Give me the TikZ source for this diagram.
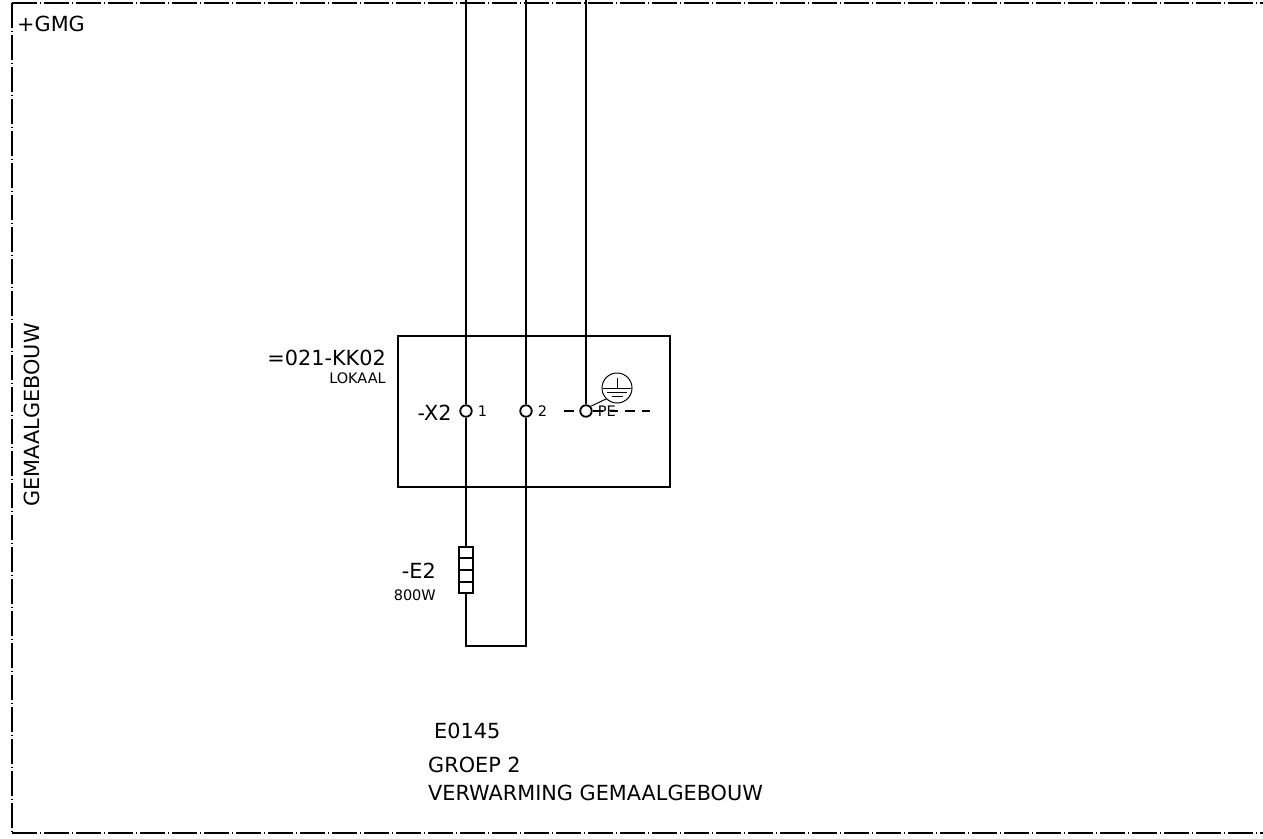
\documentclass[tikz,border=0pt]{standalone}
\usepackage{fontspec}
\setmainfont{DejaVu Sans}
\usepackage{tikz}
\usetikzlibrary{
    calc,
    positioning,
}
\tikzset{
    wire/.style={line width=2pt,black},
    frameline/.style={line width=2pt,dash pattern=on 25pt off 2.5pt on 1.5pt off 3pt},
    terminal/.style={draw,circle,line width=1.8pt,fill=white,inner sep=0pt,minimum size=11.5pt},
    lbl/.style={inner sep=0pt,font=\fontsize{20.8}{24}\selectfont},
    smalllbl/.style={inner sep=0pt,font=\fontsize{14.5}{17}\selectfont},
}

\begin{document}
\begin{tikzpicture}[x=1pt,y=-1pt]
    \useasboundingbox (0,0) rectangle (1263,838);
    % outer frame
    \coordinate (frametl) at (12,3);
    \coordinate (frametr) at (1263,3);
    \coordinate (framebl) at (12,833);
    \coordinate (framebr) at (1263,833);
    \draw[frameline] (frametl) -- (frametr);
    \draw[frameline] (frametl) -- (framebl);
    \draw[frameline] (framebl) -- (framebr);

    \node[draw,wire,minimum width=272pt,minimum height=151pt,inner sep=0pt] (lokaalbox) at (534,411.5) {};
    \node[terminal] (term1) at (466,411) {};
    \node[terminal] (term2) at (526,411) {};
    \node[terminal] (termpe) at (586,411) {};
    \coordinate (top1) at (466,0);
    \coordinate (top2) at (526,0);
    \coordinate (toppe) at (586,0);

    % heater
    \node[draw,line width=1.7pt,minimum width=14pt,minimum height=46pt,inner sep=0pt] (heater) at (466,570) {};
    \coordinate (bottom1) at (466,646);
    \coordinate (bottom2) at (526,646);
    \draw[line width=1.7pt] ($(heater.north west)!.25!(heater.south west)$) -- ($(heater.north east)!.25!(heater.south east)$);
    \draw[line width=1.7pt] (heater.west) -- (heater.east);
    \draw[line width=1.7pt] ($(heater.north west)!.75!(heater.south west)$) -- ($(heater.north east)!.75!(heater.south east)$);

    \draw[wire] (top1) -- (term1);
    \draw[wire] (top2) -- (term2);
    \draw[wire] (toppe) -- (termpe);
    \draw[wire] (term1) -- (heater);
    \draw[wire] (heater) -- (bottom1) -- (bottom2) -- (term2);

    % earth symbol
    \coordinate (dashl) at (564,411);
    \coordinate (dashr) at (650,411);
    \draw[line width=1.7pt,dash pattern=on 10pt off 7pt] (dashl) -- (termpe);
    \draw[line width=1.7pt,dash pattern=on 8pt off 7pt on 10pt off 7pt] (dashr) -- (termpe);
    \node[draw,circle,line width=1pt,minimum size=30pt,inner sep=0pt] (earth) at (617,388) {};
    \draw[line width=1pt] (termpe.45) -- (earth.225);
    \coordinate (earthmid) at (617,388.5);
    \draw[line width=1pt] (earth.north) ++(0,5) -- (earthmid);
    \draw[line width=1pt] ($(earthmid)+(-14,0)$) -- ($(earthmid)+(14,0)$);
    \draw[line width=1pt] ($(earthmid)+(-10,4)$) -- ($(earthmid)+(10,4)$);
    \draw[line width=1pt] ($(earthmid)+(-5.5,8)$) -- ($(earthmid)+(5.5,8)$);

    % texts
    \node[lbl,anchor=west] (gmg) at (17,24) {+GMG};
    \node[lbl,rotate=90] (gebouw) at (32,415) {GEMAALGEBOUW};
    \node[lbl,anchor=east] (kastname) at (386,358) {=021-KK02};
    \node[smalllbl,anchor=east] (kastloc) at (386,378) {LOKAAL};
    \node[lbl,left=7.5pt of term1,yshift=-1.5pt] (x2) {-X2};
    \node[smalllbl,right=5pt of term1] (num1) {1};
    \node[smalllbl,right=5pt of term2] (num2) {2};
    \node[smalllbl,right=5pt of termpe] (numpe) {PE};
    \node[lbl,anchor=east] (e2) at (436,571) {-E2};
    \node[smalllbl,anchor=east] (watt) at (436,595) {800W};
    \node[lbl,anchor=west] (code) at (434,731) {E0145};
    \node[lbl,anchor=west] (groep) at (428,765) {GROEP 2};
    \node[lbl,anchor=west] (verw) at (428,793) {VERWARMING GEMAALGEBOUW};
\end{tikzpicture}
\end{document}
